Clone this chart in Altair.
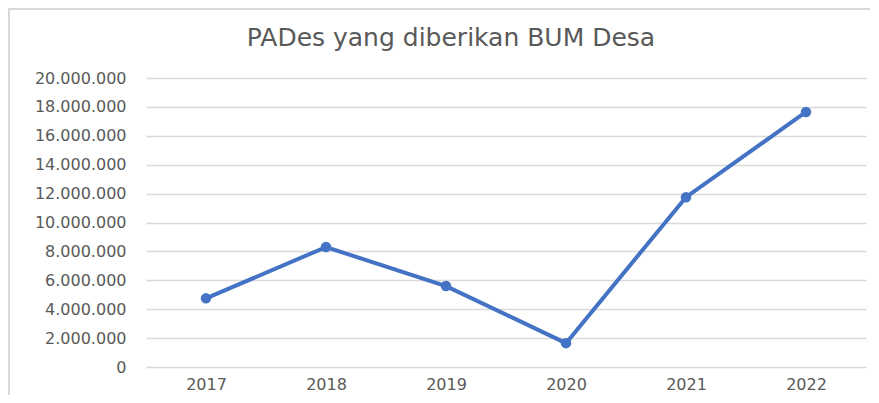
import altair as alt
import pandas as pd

title_text = ["PADes yang diberikan BUM Desa"]
years = ["2017", "2018", "2019", "2020", "2021", "2022"]
values = [4750000, 8300000, 5600000, 1650000, 11750000, 17650000]
y_ticks = [0, 2000000, 4000000, 6000000, 8000000, 10000000, 12000000,
           14000000, 16000000, 18000000, 20000000]

df = pd.DataFrame({"Tahun": years, "PADes": values})
tdf = pd.DataFrame({"t": title_text})

GREY = "#595959"
FONT = "DejaVu Sans"

base = alt.Chart(df).encode(
    x=alt.X("Tahun:N", sort=years, title=None,
            scale=alt.Scale(type="point", padding=0.5),
            axis=alt.Axis(labelAngle=0, domain=False, ticks=False, grid=False,
                          labelPadding=9, labelFontSize=16, labelColor=GREY,
                          labelFont=FONT)),
    y=alt.Y("PADes:Q", title=None,
            scale=alt.Scale(domain=[0, 20000000], nice=False),
            axis=alt.Axis(values=y_ticks, format=",d", domain=False, ticks=False,
                          labelPadding=20, labelFontSize=16, labelColor=GREY,
                          labelFont=FONT, gridColor="#d9d9d9", gridWidth=1.5)),
)

line = base.mark_line(color="#4472C4", strokeWidth=4)
pts = base.mark_circle(color="#4472C4", size=110, opacity=1)

title = alt.Chart(tdf).mark_text(
    align="center", baseline="alphabetic", fontSize=25, font=FONT, color=GREY
).encode(text="t:N", x=alt.value(305), y=alt.value(-32))

border_top = alt.Chart(tdf).mark_rule(color="#d9d9d9", strokeWidth=2).encode(
    x=alt.value(-138), x2=alt.value(740), y=alt.value(-69))
border_left = alt.Chart(tdf).mark_rule(color="#d9d9d9", strokeWidth=2).encode(
    x=alt.value(-137), y=alt.value(-70), y2=alt.value(330))

chart = alt.layer(border_top, border_left, title, line, pts).properties(
    width=720, height=289,
    autosize=alt.AutoSizeParams(type="none"),
    padding={"left": 138, "top": 70, "right": 4, "bottom": 28},
).configure(
    locale={"number": {"decimal": ",", "thousands": ".", "grouping": [3],
                       "currency": ["Rp", ""]}}
).configure_view(stroke=None)

chart.save("out.html", embed_options={"renderer": "svg", "actions": False})
